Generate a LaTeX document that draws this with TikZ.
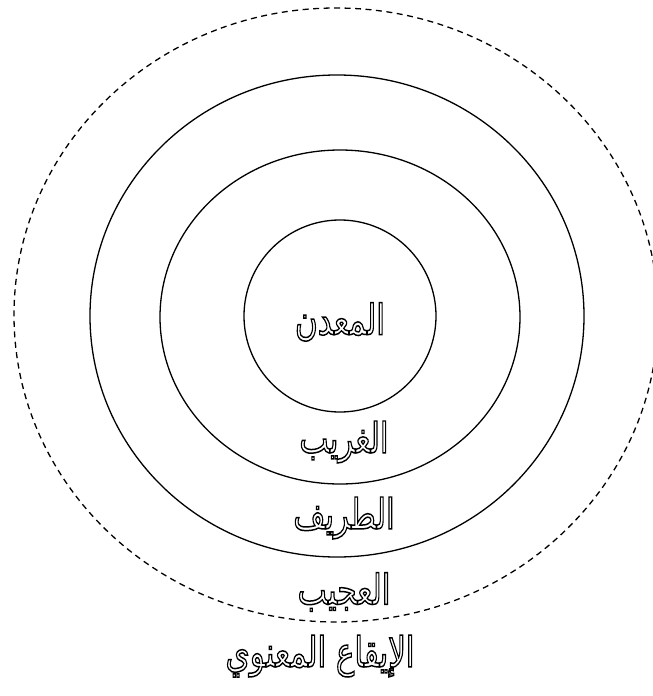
\documentclass[tikz,border=0pt]{standalone}
\usepackage{fontspec}
\newfontfamily\arabicfont[Script=Arabic]{DejaVu Sans}
\TeXXeTstate=1
\newcommand{\outl}[1]{\special{pdf:literal direct 1 Tr 1.1 w}#1\special{pdf:literal direct 0 Tr}}
\newcommand{\artxt}[1]{\scalebox{1}[1.35]{\outl{\beginR #1\endR}}}
\begin{document}
\begin{tikzpicture}[x=1pt,y=-1pt,
  ring/.style={draw=black,line width=1.3pt},
  outerring/.style={draw=black,line width=1.3pt,dash pattern=on 6pt off 4.5pt},
  lbl/.style={font=\arabicfont\fontsize{31}{36}\selectfont,inner sep=0pt}]
\useasboundingbox (0,0) rectangle (653,696);
\draw[outerring] (336,315) ellipse [x radius=322, y radius=307];
\draw[ring] (337,316) ellipse [x radius=247, y radius=241];
\draw[ring] (340,317) ellipse [x radius=180, y radius=167];
\draw[ring] (340,316) ellipse [x radius=96, y radius=96];
\node[lbl] (a) at (340,322) {\artxt{المعدن}};
\node[lbl] (b) at (344,442) {\artxt{الغريب}};
\node[lbl] (c) at (344,518) {\artxt{الطريف}};
\node[lbl] (d) at (344,592) {\artxt{العجيب}};
\node[lbl] (e) at (320,656) {\artxt{الإيقاع المعنوي}};
\end{tikzpicture}
\end{document}
